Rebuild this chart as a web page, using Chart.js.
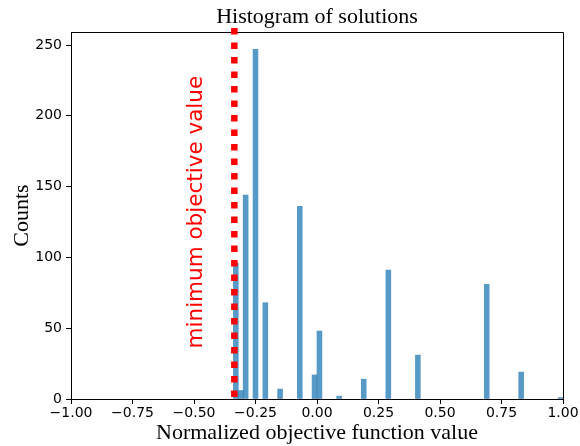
<!DOCTYPE html>
<html>
<head>
<meta charset="utf-8">
<script src="https://cdn.jsdelivr.net/npm/chart.js@4"></script>
<style>html,body{margin:0;padding:0;background:#fff}</style>
</head>
<body>
<canvas id="histChart" width="580" height="446"></canvas>
<script>
// histogram bins (width 0.02) that are not empty, centre of each bin + its count
const binCenters = [-0.33, -0.31, -0.29, -0.25, -0.21, -0.15, -0.07, -0.01, 0.01, 0.09, 0.19, 0.29, 0.41, 0.69, 0.83, 0.99];
const counts = [96, 6, 144, 247, 68, 7, 136, 17, 48, 2, 14, 91, 31, 81, 19, 1];
const xTicks = [-1, -0.75, -0.5, -0.25, 0, 0.25, 0.5, 0.75, 1];
const yTicks = [0, 50, 100, 150, 200, 250];
const minObjective = -0.336;
const minLineSpan = [262, -2];
const labelAt = { x: -0.492, y: 132 };

const serif = '"Liberation Serif", "Times New Roman", serif';
const sans = '"DejaVu Sans", sans-serif';

const extras = {
  id: 'extras',
  beforeDatasetsDraw(chart) {
    // top and right spines (left/bottom come from the scales)
    const { ctx, chartArea: a } = chart;
    ctx.save();
    ctx.strokeStyle = '#000';
    ctx.lineWidth = 1;
    ctx.beginPath();
    ctx.moveTo(Math.round(a.left), Math.round(a.top) + 0.5);
    ctx.lineTo(Math.round(a.right) + 0.5, Math.round(a.top) + 0.5);
    ctx.lineTo(Math.round(a.right) + 0.5, Math.round(a.bottom));
    ctx.stroke();
    ctx.restore();
  },
  afterDraw(chart) {
    const { ctx, chartArea: a, scales } = chart;
    ctx.save();
    ctx.fillStyle = '#000';
    ctx.font = '22px ' + serif;
    ctx.textAlign = 'center';
    ctx.textBaseline = 'alphabetic';
    ctx.fillText('Histogram of solutions', (a.left + a.right) / 2, 23);
    ctx.translate(scales.x.getPixelForValue(labelAt.x), scales.y.getPixelForValue(labelAt.y));
    ctx.rotate(-Math.PI / 2);
    ctx.fillStyle = '#ff0000';
    ctx.font = '21.5px ' + sans;
    ctx.textBaseline = 'middle';
    ctx.fillText('minimum objective value', 0, 0);
    ctx.restore();
  }
};

const fmt = v => (v < 0 ? '\u2212' : '') + Math.abs(v).toFixed(2);

new Chart(document.getElementById('histChart'), {
  type: 'bar',
  data: {
    datasets: [
      { type: 'line', data: minLineSpan.map(y => ({ x: minObjective, y })), borderColor: '#ff0000', borderWidth: 6.5, borderDash: [6.5, 8], borderCapStyle: 'butt', pointRadius: 0, clip: false, order: 0 },
      { data: binCenters.map((x, i) => ({ x, y: counts[i] })), backgroundColor: 'rgba(31, 119, 180, 0.75)', borderWidth: 0, barPercentage: 1, categoryPercentage: 1, order: 1 }
    ]
  },
  options: {
    responsive: false, animation: false, devicePixelRatio: 1,
    layout: { padding: { top: 32, right: 17, left: 0, bottom: 0 } },
    plugins: { legend: { display: false }, tooltip: { enabled: false }, title: { display: false } },
    scales: {
      x: {
        type: 'linear', min: -1, max: 1, offset: false,
        afterBuildTicks: s => { s.ticks = xTicks.map(v => ({ value: v })); },
        afterFit: s => { s.height = 47; },
        ticks: { color: '#000', font: { family: sans, size: 14 }, padding: 1, maxRotation: 0, callback: fmt },
        grid: { display: true, offset: false, drawOnChartArea: false, tickLength: 5, tickColor: '#000' },
        border: { display: true, color: '#000', width: 1 },
        title: { display: true, text: 'Normalized objective function value', color: '#000', font: { family: serif, size: 22 }, padding: { top: 0, bottom: 0 } }
      },
      y: {
        min: 0, max: 259.2,
        afterBuildTicks: s => { s.ticks = yTicks.map(v => ({ value: v })); },
        afterFit: s => { s.width = 71; },
        ticks: { color: '#000', font: { family: sans, size: 14 }, padding: 4 },
        grid: { display: true, drawOnChartArea: false, tickLength: 5, tickColor: '#000' },
        border: { display: true, color: '#000', width: 1 },
        title: { display: true, text: 'Counts', color: '#000', font: { family: serif, size: 22 }, padding: { top: 9, bottom: 0 } }
      }
    }
  },
  plugins: [extras]
});
</script>
</body>
</html>
